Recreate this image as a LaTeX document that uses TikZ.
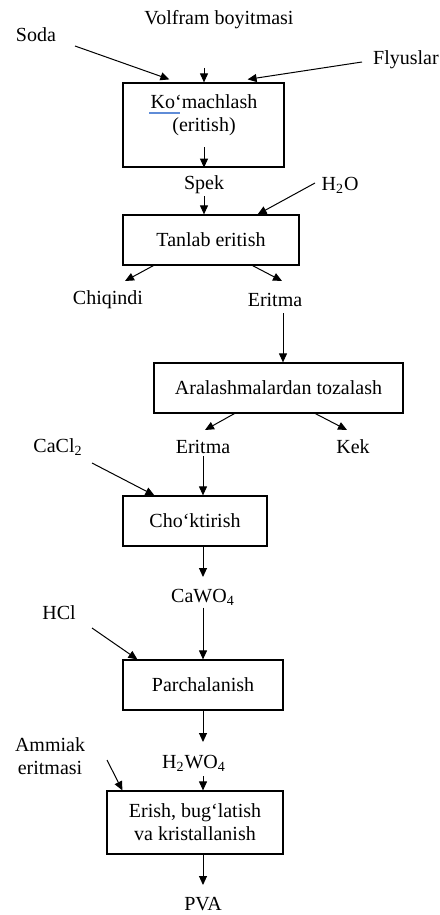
\documentclass[tikz,border=0pt]{standalone}
\usepackage{fontspec}
\setmainfont{Liberation Serif}
\usetikzlibrary{arrows.meta, calc}
\definecolor{spellblue}{RGB}{95,140,215}

\begin{document}
\begin{tikzpicture}[
    x=0.5pt, y=-0.5pt,
    >={Triangle[length=4.5pt, width=4pt]},
    every node/.style={font=\fontsize{10}{11.5}\selectfont},
    box/.style={draw, line width=0.6pt, inner sep=2pt, align=center},
    lbl/.style={inner sep=1pt, align=center},
    flow/.style={->, line width=0.5pt}
  ]
  \useasboundingbox (0,0) rectangle (439,915);

  % Process boxes
  \node[box, minimum width=80.5pt, minimum height=42pt] (komach) at (203.5,125) {};
  \node[lbl] (komachT) at (204,115) {Ko‘machlash\\(eritish)};
  \draw[spellblue, line width=0.9pt] (149,113) -- (180,113);
  \node[box, minimum width=88pt, minimum height=25pt] (tanlab) at (211,240) {Tanlab eritish};
  \node[box, minimum width=124.5pt, minimum height=25pt] (aral) at (278.5,388) {Aralashmalardan tozalash};
  \node[box, minimum width=72pt, minimum height=25pt] (chokt) at (195,521) {Cho‘ktirish};
  \node[box, minimum width=80pt, minimum height=25pt] (parch) at (203,685) {Parchalanish};
  \node[box, minimum width=88pt, minimum height=31.5pt] (erish) at (195,822.5) {Erish, bug‘latish\\va kristallanish};

  % Materials and products
  \node[lbl] (volfram) at (219,20) {Volfram boyitmasi};
  \node[lbl] (soda) at (36,35) {Soda};
  \node[lbl] (flyus) at (406,60) {Flyuslar};
  \node[lbl] (spek) at (204,185) {Spek};
  \node[lbl] (suv) at (340,185) {H\textsubscript{2}O};
  \node[lbl] (chiq) at (108,300) {Chiqindi};
  \node[lbl] (erit) at (275,300) {Eritma};
  \node[lbl] (erit2) at (203,447) {Eritma};
  \node[lbl] (kek) at (353,447) {Kek};
  \node[lbl] (cacl) at (58,447) {CaCl\textsubscript{2}};
  \node[lbl] (cawo) at (203,597) {CaWO\textsubscript{4}};
  \node[lbl] (hcl) at (59,613) {HCl};
  \node[lbl] (ammiak) at (50,756) {Ammiak\\eritmasi};
  \node[lbl] (hwo) at (194,763) {H\textsubscript{2}WO\textsubscript{4}};
  \node[lbl] (pva) at (203,904) {PVA};

  % Free ends of the arrows
  \coordinate (volfT) at (204,68);
  \coordinate (sodaT) at (75,46);
  \coordinate (flyusT) at (362,62);
  \coordinate (komachT2) at (204,147);
  \coordinate (suvT) at (315,183);
  \coordinate (chiqH) at (125,281);
  \coordinate (eritH) at (282,281);
  \coordinate (eritT) at (283,313);
  \coordinate (erit2H) at (205,430);
  \coordinate (kekH) at (347,430);
  \coordinate (caclT) at (92,463);
  \coordinate (cawoH) at (203,577);
  \coordinate (hclT) at (92,628);
  \coordinate (hwoH) at (203,742);
  \coordinate (hwoT) at (203,776);
  \coordinate (ammiakT) at (107,760);
  \coordinate (pvaH) at (203,885);

  % Flow
  \draw[flow] (sodaT) -- ($(komach.north west)+(47,-3)$);
  \draw[flow] (volfT) -- (volfT |- komach.north);
  \draw[flow] (flyusT) -- ($(komach.north east)+(-37,-3)$);
  \draw[flow] (komachT2) -- (komachT2 |- komach.south);
  \draw[flow] (spek.south) -- (spek.south |- tanlab.north);
  \draw[flow] (suvT) -- ($(tanlab.north east)+(-42,0)$);
  \draw[flow] ($(tanlab.south west)+(31,0)$) -- (chiqH);
  \draw[flow] ($(tanlab.south east)+(-47,0)$) -- (eritH);
  \draw[flow] (eritT) -- (eritT |- aral.north);
  \draw[flow] ($(aral.south west)+(81,0)$) -- (erit2H);
  \draw[flow] ($(aral.south west)+(162,0)$) -- (kekH);
  \draw[flow] (caclT) -- ($(chokt.north west)+(32,0)$);
  \draw[flow] (erit2.south) -- (erit2.south |- chokt.north);
  \draw[flow] (cawoH |- chokt.south) -- (cawoH);
  \draw[flow] (cawo.south) -- (cawo.south |- parch.north);
  \draw[flow] (hclT) -- ($(parch.north west)+(15,0)$);
  \draw[flow] (parch.south) -- (hwoH);
  \draw[flow] (hwoT) -- (hwoT |- erish.north);
  \draw[flow] (ammiakT) -- ($(erish.north west)+(16,0)$);
  \draw[flow] (pvaH |- erish.south) -- (pvaH);
\end{tikzpicture}
\end{document}
